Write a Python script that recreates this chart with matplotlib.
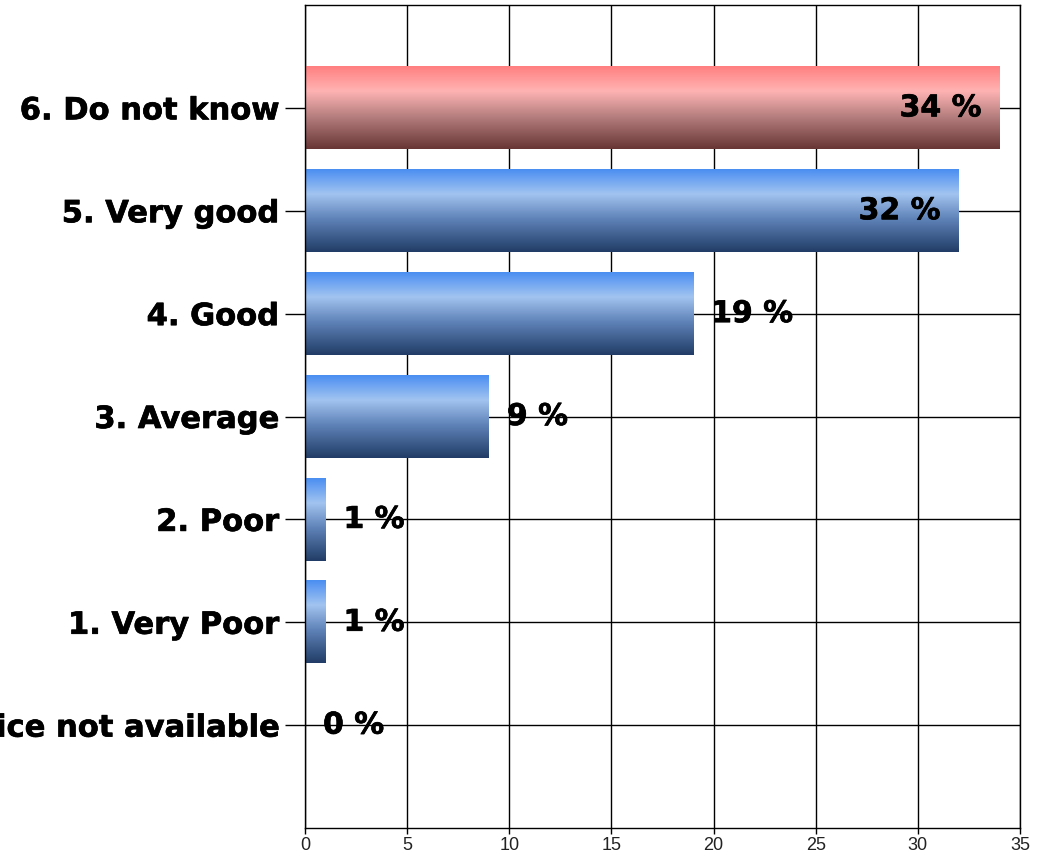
import numpy as np
import matplotlib
matplotlib.use("Agg")
import matplotlib.pyplot as plt
import matplotlib.patheffects as pe
from matplotlib.colors import LinearSegmentedColormap

categories = ["0. Service not available", "1. Very Poor", "2. Poor", "3. Average",
              "4. Good", "5. Very good", "6. Do not know"]
values = [0, 1, 1, 9, 19, 32, 34]
highlight = [False, False, False, False, False, False, True]
xticks = [0, 5, 10, 15, 20, 25, 30, 35]

blue_cmap = LinearSegmentedColormap.from_list(
    "blue", [(0.0, "#4a8ef2"), (0.3, "#a2c4f0"), (0.6, "#5f82b8"), (1.0, "#213d66")])
red_cmap = LinearSegmentedColormap.from_list(
    "red", [(0.0, "#ff7f80"), (0.3, "#ffb3b3"), (0.6, "#b88080"), (1.0, "#683535")])

fig = plt.figure(figsize=(10.48, 8.62), dpi=100)
ax = fig.add_axes([305/1048, 33/862, 715/1048, 823/862])

y = np.arange(len(categories))
bars = ax.barh(y, values, height=0.8, color="none", edgecolor="none", zorder=2)

grad = np.linspace(0, 1, 256).reshape(-1, 1)
for b, hl in zip(bars, highlight):
    w = b.get_width()
    if w <= 0:
        continue
    x0, y0, h = b.get_x(), b.get_y(), b.get_height()
    ax.imshow(grad, cmap=red_cmap if hl else blue_cmap, aspect="auto",
              extent=[x0, x0 + w, y0, y0 + h], origin="upper", zorder=2,
              interpolation="bicubic")

heavy = [pe.withStroke(linewidth=0.5, foreground="black")]

ax.set_xlim(0, 35)
ax.set_ylim(-1, 7)
ax.set_xticks(xticks)
ax.set_xticklabels([str(t) for t in xticks],
                   fontfamily=["Liberation Sans Narrow", "Liberation Sans"], fontsize=13,
                   color="#222222")
ax.set_yticks(y)
ax.set_yticklabels(categories, fontfamily="DejaVu Sans", fontweight="bold", fontsize=22)
for t in ax.get_yticklabels():
    t.set_path_effects(heavy)
ax.tick_params(axis="y", length=14.5, width=1, color="black", pad=4.5)
ax.tick_params(axis="x", length=4, width=1, color="black", pad=2)
ax.grid(True, color="black", linewidth=1.0, zorder=1)
ax.set_axisbelow(True)
for s in ax.spines.values():
    s.set_color("black")
    s.set_linewidth(1.0)

xmax = 35
for yi, v in zip(y, values):
    inside = v > 0.8 * xmax
    ax.annotate(f"{v} %", (v, yi), xytext=(-13 if inside else 13, 0),
                textcoords="offset points", ha="right" if inside else "left",
                va="center", fontsize=21.5, fontweight="bold",
                fontfamily="DejaVu Sans", color="black", zorder=4,
                path_effects=heavy)

fig.savefig("out.png", dpi=100)
